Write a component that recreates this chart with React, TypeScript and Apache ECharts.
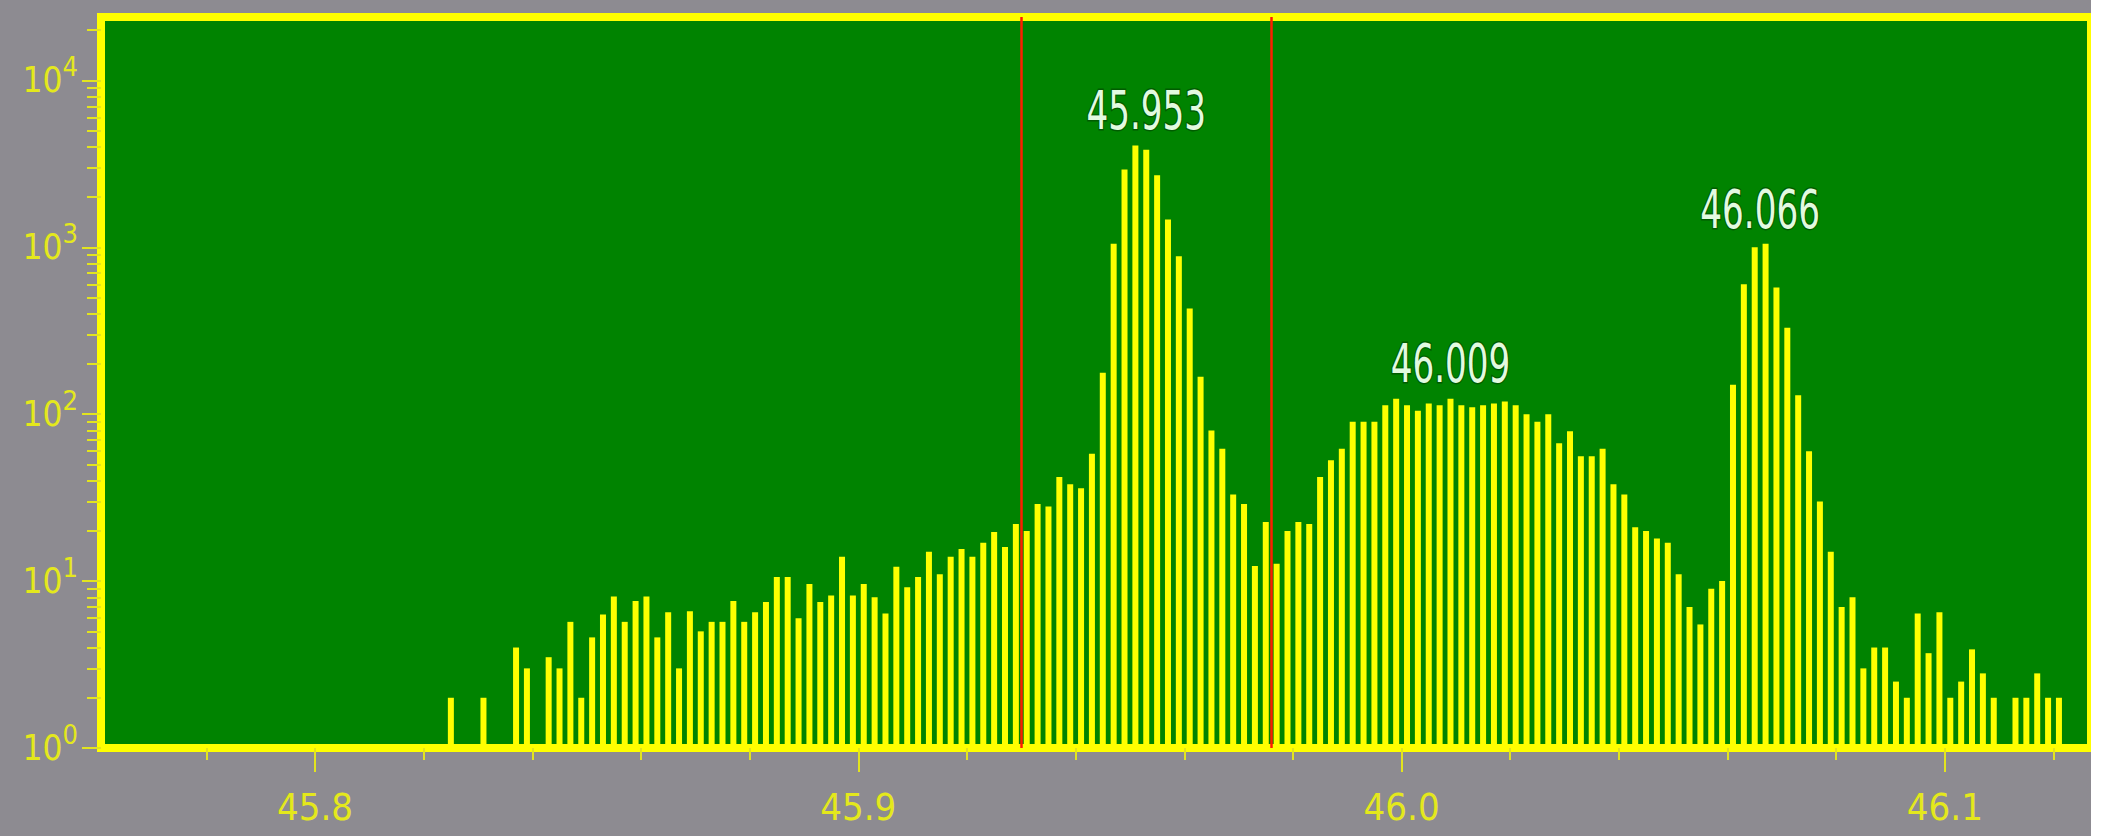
import React, { useEffect, useRef } from 'react';
import * as echarts from 'echarts';

// Histogram bins (mass-to-charge, Da): centre of first bin and bin width
const BIN_START = 45.825;
const BIN_WIDTH = 0.002;

// Counts per bin (null = empty bin)
const counts: (number | null)[] = [
  2, null, null, 2, null, null, 4, 3, null, 3.5,
  3, 5.7, 2, 4.6, 6.3, 8.1, 5.7, 7.6, 8.1, 4.6,
  6.5, 3, 6.6, 5, 5.7, 5.7, 7.6, 5.7, 6.5, 7.5,
  10.6, 10.6, 6, 9.6, 7.5, 8.2, 14, 8.2, 9.6, 8,
  6.4, 12.2, 9.2, 10.6, 15, 11, 14, 15.6, 14, 17,
  19.7, 16, 22, 20, 29, 28, 42, 38, 36, 58,
  177, 1050, 2925, 4070, 3850, 2700, 1470, 885, 430, 168,
  80, 62, 33, 29, 12.3, 22.6, 12.7, 20, 22.6, 22,
  42, 53, 62, 90, 90, 90, 113, 124, 113, 105,
  116, 113, 124, 113, 110, 113, 116, 119, 113, 100,
  90, 100, 67, 79, 56, 56, 62, 38, 33, 21,
  20, 18, 17, 11, 7, 5.5, 9, 10, 150, 600,
  1000, 1050, 575, 330, 130, 60, 30, 15, 7, 8,
  3, 4, 4, 2.5, 2, 6.4, 3.7, 6.5, 2, 2.5,
  3.9, 2.8, 2, null, 2, 2, 2.8, 2, 2, null,
];

const xTickValues = [45.8, 45.9, 46.0, 46.1];
const yDecadeValues = [1, 10, 100, 1000, 10000];
const yDecadeExponents = ['0', '1', '2', '3', '4'];
const yMinorTickValues = [
  2, 3, 4, 5, 6, 7, 8, 9,
  20, 30, 40, 50, 60, 70, 80, 90,
  200, 300, 400, 500, 600, 700, 800, 900,
  2000, 3000, 4000, 5000, 6000, 7000, 8000, 9000,
  20000,
];
const rangeMarkers = [45.93, 45.976];
const peakPositions = [45.953, 46.009, 46.066];
const peakLabels = ['45.953', '46.009', '46.066'];

const X_MIN = 45.7606;
const X_MAX = 46.1269;
const Y_MAX = 24000;

const FONT = '"DejaVu Sans Condensed", "Liberation Sans Narrow", "DejaVu Sans", sans-serif';
const YELLOW_TEXT = '#e4e81c';

export default function App() {
  const ref = useRef<HTMLDivElement>(null);

  useEffect(() => {
    if (!ref.current) return;
    const chart = echarts.init(ref.current, undefined, { renderer: 'svg' });

    const barData: [number, number][] = [];
    counts.forEach((c, i) => {
      if (c !== null) barData.push([+(BIN_START + i * BIN_WIDTH).toFixed(3), c]);
    });

    const peakHeight = (p: number) => {
      let m = 1;
      barData.forEach(([x, y]) => {
        if (Math.abs(x - p) <= 0.0025 && y > m) m = y;
      });
      return m;
    };

    const tickStyle = { color: '#e2e41e', width: 2 };

    chart.setOption({
      animation: false,
      backgroundColor: '#8d8b91',
      grid: {
        left: 101,
        top: 17,
        right: -10,
        bottom: 88,
        show: true,
        backgroundColor: '#008300',
        borderColor: '#ffff00',
        borderWidth: 8,
        containLabel: false,
      },
      xAxis: {
        type: 'value',
        min: X_MIN,
        max: X_MAX,
        splitNumber: 4,
        minInterval: 0.1,
        maxInterval: 0.1,
        axisLine: { show: false },
        splitLine: { show: false },
        axisTick: {
          show: true,
          inside: false,
          length: 24,
          customValues: xTickValues,
          lineStyle: tickStyle,
        },
        minorTick: { show: true, splitNumber: 5, length: 12, lineStyle: tickStyle },
        axisLabel: {
          customValues: xTickValues,
          formatter: (v: number) => v.toFixed(1),
          color: YELLOW_TEXT,
          fontFamily: FONT,
          fontSize: 38,
          margin: 40,
        },
      },
      yAxis: [
        {
          type: 'log',
          logBase: 10,
          min: 1,
          max: Y_MAX,
          position: 'left',
          axisLine: { show: false },
          splitLine: { show: false },
          axisTick: {
            show: true,
            length: 19,
            customValues: yDecadeValues,
            lineStyle: tickStyle,
          },
          axisLabel: {
            customValues: yDecadeValues,
            margin: 23,
            formatter: (v: number) => {
              const i = yDecadeValues.findIndex((d) => Math.abs(d - v) < 1e-6 * d);
              return i >= 0 ? `{b|10}{s|${yDecadeExponents[i]}}` : '';
            },
            rich: {
              b: { fontFamily: FONT, fontSize: 35, lineHeight: 54, color: YELLOW_TEXT },
              s: { fontFamily: FONT, fontSize: 27, lineHeight: 27, verticalAlign: 'top', color: YELLOW_TEXT },
            },
          },
        },
        {
          type: 'log',
          logBase: 10,
          min: 1,
          max: Y_MAX,
          position: 'left',
          axisLine: { show: false },
          splitLine: { show: false },
          axisLabel: { show: false },
          axisTick: {
            show: true,
            length: 14,
            customValues: yMinorTickValues,
            lineStyle: tickStyle,
          },
        },
      ],
      series: [
        {
          type: 'bar',
          yAxisIndex: 0,
          data: barData,
          barWidth: 6,
          itemStyle: { color: '#ffff00' },
          silent: true,
          markLine: {
            silent: true,
            precision: 4,
            symbol: ['none', 'none'],
            label: { show: false },
            lineStyle: { color: '#ff1e00', width: 2.5, type: 'solid' },
            data: rangeMarkers.map((v) => ({ xAxis: v })),
          },
        },
        {
          type: 'custom',
          yAxisIndex: 0,
          silent: true,
          encode: { x: 0, y: 1 },
          data: peakPositions.map((p) => [p, peakHeight(p)]),
          renderItem: (params: any, api: any) => {
            const pt = api.coord([api.value(0), api.value(1)]);
            return {
              type: 'text',
              x: pt[0],
              y: pt[1] - 8,
              scaleY: 1.4,
              style: {
                text: peakLabels[params.dataIndex],
                x: 0,
                y: 0,
                fill: '#e2fae0',
                fontFamily: FONT,
                fontSize: 38,
                align: 'center',
                verticalAlign: 'bottom',
                stroke: '#005c00',
                lineWidth: 2,
              },
            };
          },
        },
      ],
    });

    return () => chart.dispose();
  }, []);

  return (
    <div
      ref={ref}
      style={{ position: 'absolute', left: 0, top: 0, width: 2091, height: 836 }}
    />
  );
}
